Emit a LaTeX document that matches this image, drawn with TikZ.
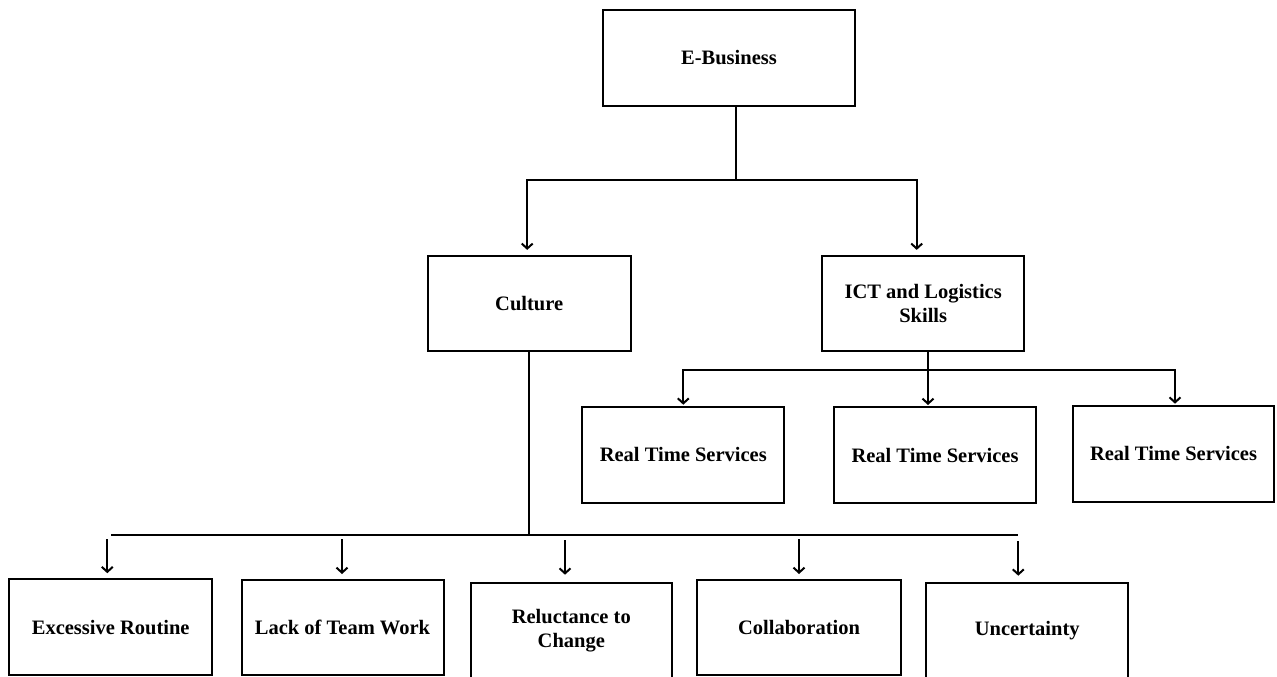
\documentclass[tikz,border=0pt]{standalone}
\usepackage{fontspec}
\setmainfont{Liberation Serif}
\usetikzlibrary{arrows.meta}
\begin{document}
\begin{tikzpicture}[x=1pt,y=-1pt,
  box/.style={draw, line width=2pt, inner sep=0pt, align=center,
    font=\fontsize{20.5}{23.5}\selectfont\bfseries},
  link/.style={line width=2pt},
  arr/.style={line width=2pt, -{Straight Barb[length=5pt,width=11pt]}}]
\useasboundingbox (0,0) rectangle (1277,677);
\clip (0,0) rectangle (1277,677);
% boxes
\node[box, minimum width=252pt, minimum height=96pt] (eb) at (729,58) {E-Business};
\node[box, minimum width=203pt, minimum height=95pt] (cul) at (529.2,303.4) {Culture};
\node[box, minimum width=202pt, minimum height=95pt] (ict) at (923.2,303.4) {ICT and Logistics\\Skills};
\node[box, minimum width=202pt, minimum height=96pt] (rts1) at (683.3,454.7) {Real Time Services};
\node[box, minimum width=202pt, minimum height=96pt] (rts2) at (935,455) {Real Time Services};
\node[box, minimum width=201pt, minimum height=96pt] (rts3) at (1173.5,453.7) {Real Time Services};
\node[box, minimum width=203pt, minimum height=96pt] (er) at (110.7,627.2) {Excessive Routine};
\node[box, minimum width=202pt, minimum height=95pt] (ltw) at (342.5,627.5) {Lack of Team Work};
\node[box, minimum width=201pt, minimum height=96pt] (rel) at (571.3,630.7) {Reluctance to\\Change};
\node[box, minimum width=204pt, minimum height=95pt] (col) at (799,627.5) {Collaboration};
\node[box, minimum width=202pt, minimum height=96pt] (unc) at (1027.2,630.7) {Uncertainty};
% top level
\coordinate (j1) at (735.7,180);
\draw[link] (j1 |- eb.south) -- (j1);
\draw[arr, shorten >=5pt] (j1) -| ([xshift=-2pt]cul.north);
\draw[arr, shorten >=5pt] (j1) -| ([xshift=-6.5pt]ict.north);
% ICT level
\coordinate (j2) at (928,370);
\draw[link] (j2 |- ict.south) -- (j2);
\draw[arr, shorten >=1pt] (j2) -| (rts1.north);
\draw[arr, shorten >=1pt] (j2) -- (j2 |- rts2.north);
\draw[arr, shorten >=1pt] (j2) -| ([xshift=1.5pt]rts3.north);
% culture level
\coordinate (hl) at (111,535);
\coordinate (hr) at (1018.3,535);
\draw[link] (cul.south) -- (cul.south |- hl);
\draw[link] (hl) -- (hr);
\draw[arr, shorten >=5pt] ([xshift=-3.4pt,yshift=-4pt]hl -| er.north) -- ([xshift=-3.4pt]er.north);
\draw[arr, shorten >=5pt] ([xshift=-0.5pt,yshift=-4pt]hl -| ltw.north) -- ([xshift=-0.5pt]ltw.north);
\draw[arr, shorten >=7pt] ([xshift=-6.3pt,yshift=-5pt]hl -| rel.north) -- ([xshift=-6.3pt]rel.north);
\draw[arr, shorten >=5pt] ([yshift=-4pt]hl -| col.north) -- (col.north);
\draw[arr, shorten >=6pt] ([yshift=-6pt]hr) -- (hr |- unc.north);
\end{tikzpicture}
\end{document}
